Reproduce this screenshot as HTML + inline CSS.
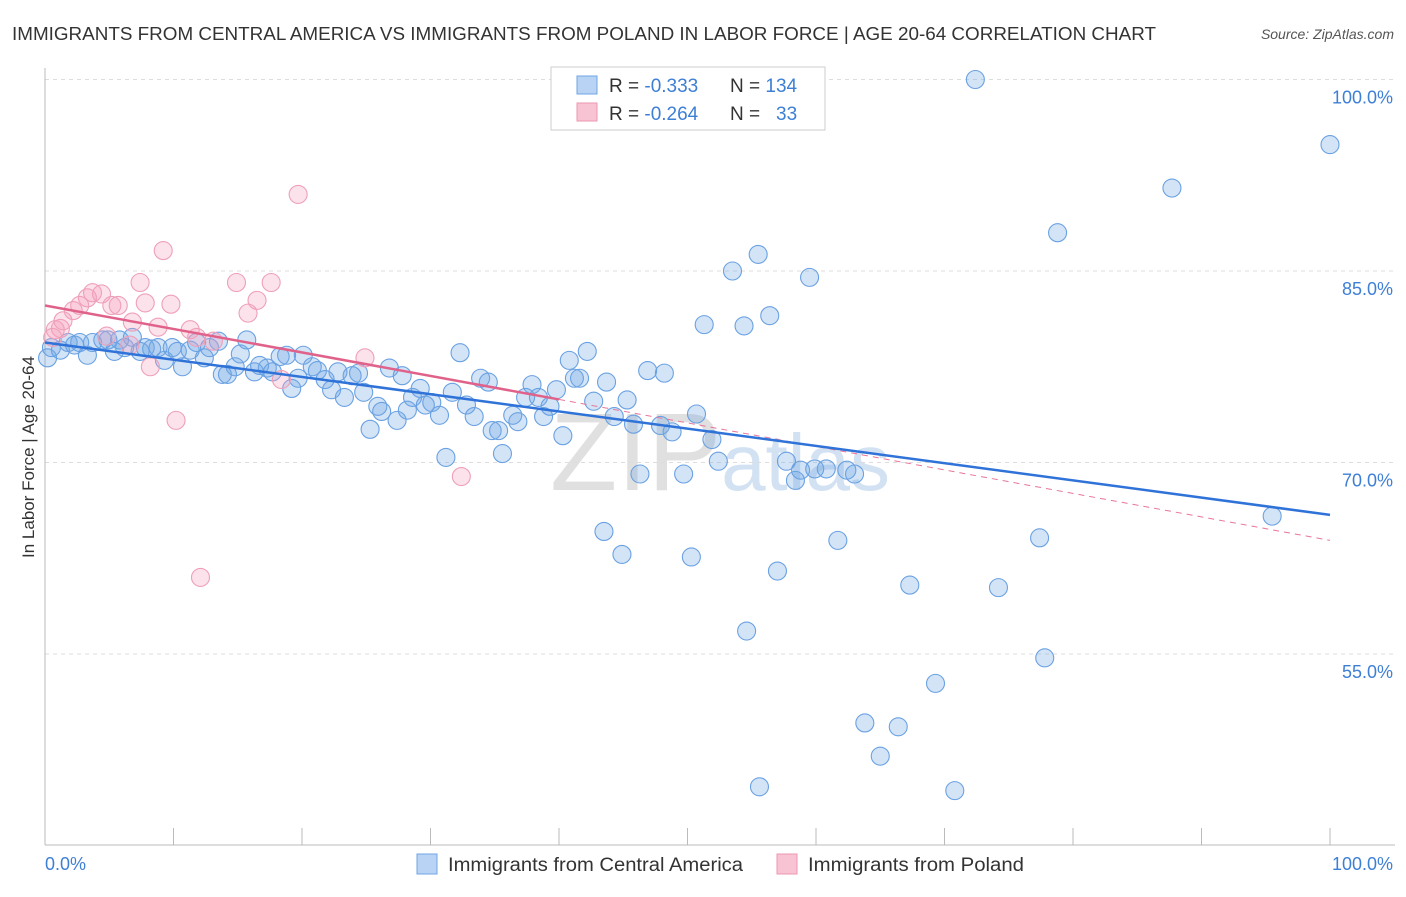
<!DOCTYPE html>
<html><head><meta charset="utf-8"><style>
body{margin:0;background:#fff;font-family:"Liberation Sans",sans-serif;}
svg text{font-family:"Liberation Sans",sans-serif;}
</style></head><body>
<svg id="chart" width="1406" height="892" viewBox="0 0 1406 892">
<text x="12" y="40" font-size="18" fill="#333" textLength="1144" lengthAdjust="spacingAndGlyphs">IMMIGRANTS FROM CENTRAL AMERICA VS IMMIGRANTS FROM POLAND IN LABOR FORCE | AGE 20-64 CORRELATION CHART</text>
<text x="1394" y="39" font-size="14" fill="#555" font-style="italic" text-anchor="end">Source: ZipAtlas.com</text>
<text x="720" y="490" font-size="110" fill="#e2e2e2" text-anchor="middle" font-family="Liberation Serif"><tspan fill="#e0e0e0">ZIP</tspan><tspan fill="#d3e2f3" font-family="Liberation Sans" font-size="80">atlas</tspan></text>
<g id="grid"></g><g id="axes"></g><g id="marks"></g>
<text transform="translate(34,457) rotate(-90)" font-size="17" fill="#333" text-anchor="middle">In Labor Force | Age 20-64</text>
<g>
<rect x="551" y="67" width="274" height="63" fill="#fff" stroke="#ccc"/>
<rect x="577" y="76" width="20" height="18" fill="#b9d3f4" stroke="#6fa4e3"/>
<rect x="577" y="103" width="20" height="18" fill="#f8c3d2" stroke="#ee97b2"/>
<text x="609" y="92" font-size="19" fill="#333">R = <tspan fill="#3e7fd6">-0.333</tspan></text>
<text x="730" y="92" font-size="19" fill="#333">N = <tspan fill="#3e7fd6">134</tspan></text>
<text x="609" y="120" font-size="19" fill="#333">R = <tspan fill="#3e7fd6">-0.264</tspan></text>
<text x="730" y="120" font-size="19" fill="#333">N = </text>
<text x="776" y="120" font-size="19" fill="#3e7fd6">33</text>
</g>
<g>
<rect x="417" y="854" width="20" height="20" fill="#b9d3f4" stroke="#6fa4e3"/>
<text x="448" y="871" font-size="19" fill="#333" textLength="295" lengthAdjust="spacingAndGlyphs">Immigrants from Central America</text>
<rect x="777" y="854" width="20" height="20" fill="#f8c3d2" stroke="#ee97b2"/>
<text x="808" y="871" font-size="19" fill="#333" textLength="216" lengthAdjust="spacingAndGlyphs">Immigrants from Poland</text>
</g>
</svg>
<script>
const yTicks=[100,85,70,55];
const yTickLabels=["100.0%","85.0%","70.0%","55.0%"];
const xTickLabels=["0.0%","100.0%"];
const blueX=[0.2,0.5,1.2,1.8,2.3,2.7,3.3,3.7,4.5,4.9,5.4,5.8,6.2,6.8,7.4,7.8,8.3,8.8,9.3,9.9,10.3,10.7,11.3,11.8,12.4,12.8,13.5,13.8,14.2,14.8,15.2,15.7,16.3,16.7,17.3,17.7,18.3,18.8,19.2,19.7,20.1,20.8,21.2,21.8,22.3,22.8,23.3,23.9,24.4,24.8,25.3,25.9,26.2,26.8,27.4,27.8,28.2,28.6,29.2,29.6,30.1,30.7,31.2,31.7,32.3,32.8,33.4,33.9,34.5,34.8,35.3,35.6,36.4,36.8,37.4,37.9,38.4,38.8,39.3,39.8,40.3,40.8,41.2,41.6,42.2,42.7,43.5,43.7,44.3,44.9,45.3,45.8,46.3,46.9,47.9,48.2,48.8,49.7,50.3,50.7,51.3,51.9,52.4,53.5,54.4,54.6,55.5,55.6,56.4,57.0,57.7,58.4,58.8,59.5,59.9,60.8,61.7,62.4,63.0,63.8,65.0,66.4,67.3,69.3,70.8,72.4,74.2,77.4,77.8,78.8,87.7,95.5,100.0,47.6,49.1];
const blueY=[78.2,79.0,78.8,79.4,79.2,79.4,78.4,79.4,79.6,79.6,78.7,79.6,79.0,79.8,78.7,79.0,78.9,79.0,78.0,79.0,78.7,77.5,78.8,79.4,78.2,79.0,79.5,76.9,76.9,77.5,78.5,79.6,77.1,77.6,77.4,77.1,78.3,78.4,75.8,76.6,78.4,77.5,77.2,76.5,75.7,77.1,75.1,76.8,77.0,75.5,72.6,74.4,74.0,77.4,73.3,76.8,74.1,75.1,75.8,74.5,74.7,73.7,70.4,75.5,78.6,74.5,73.6,76.6,76.3,72.5,72.5,70.7,73.7,73.2,75.1,76.1,75.1,73.6,74.4,75.7,72.1,78.0,76.6,76.6,78.7,74.8,64.6,76.3,73.6,62.8,74.9,73.0,69.1,77.2,72.9,77.0,72.4,69.1,62.6,73.8,80.8,71.8,70.1,85.0,80.7,56.8,86.3,44.6,81.5,61.5,70.1,68.6,69.4,84.5,69.5,69.5,63.9,69.4,69.1,49.6,47.0,49.3,60.4,52.7,44.3,100.0,60.2,64.1,54.7,88.0,91.5,65.8,94.9,100.0,100.0];
const pinkX=[0.8,1.2,0.6,1.4,2.2,2.7,3.3,3.7,4.4,5.2,5.7,6.8,7.4,7.8,8.2,8.8,9.2,9.8,10.2,11.3,12.1,13.1,14.9,15.8,16.5,17.6,18.4,19.7,24.9,32.4,4.8,6.6,11.8];
const pinkY=[80.4,80.5,79.8,81.1,81.9,82.3,82.9,83.3,83.2,82.3,82.3,81.0,84.1,82.5,77.5,80.6,86.6,82.4,73.3,80.4,61.0,79.5,84.1,81.7,82.7,84.1,76.5,91.0,78.2,68.9,79.9,79.2,79.8];
const blueTrend=[79.4,65.9];
const pinkTrend=[82.3,63.9];
const pinkSolidEnd=40;
const X=v=>45+v*12.85, Y=v=>271+(85-v)*12.767;
const NS="http://www.w3.org/2000/svg";
function mk(parent,tag,attrs){const e=document.createElementNS(NS,tag);for(const k in attrs)e.setAttribute(k,attrs[k]);document.getElementById(parent).appendChild(e);return e;}
yTicks.forEach((t,i)=>{
 const g=mk('grid','line',{x1:45,x2:1395,y1:Y(t),y2:Y(t),stroke:'#ddd','stroke-dasharray':'4,4'});
 
 
 const l=mk('axes','text',{x:1393,y:Y(t)+24,'font-size':18,fill:'#3e7fd6','text-anchor':'end'});
 l.textContent=yTickLabels[i];
 
 
});
const ax=mk('axes','line',{x1:45,x2:45,y1:68,y2:845,stroke:'#bbb'});


const bx=mk('axes','line',{x1:45,x2:1395,y1:845,y2:845,stroke:'#bbb'});


for(let i=0;i<=10;i++){const t=mk('axes','line',{x1:X(i*10),x2:X(i*10),y1:828,y2:845,stroke:'#bbb'});
 
 }
[[0,45,'start'],[1,1393,'end']].forEach(([i,x,a])=>{const l=mk('axes','text',{x:x,y:870,'font-size':18,fill:'#3e7fd6','text-anchor':a});l.textContent=xTickLabels[i];
 
 });
blueX.forEach((x,i)=>{const c=mk('marks','circle',{cx:X(x),cy:Y(blueY[i]),r:9,fill:'rgba(110,165,230,0.3)',stroke:'#6aa1e2','stroke-width':1.1});
 
 });
pinkX.forEach((x,i)=>{const c=mk('marks','circle',{cx:X(x),cy:Y(pinkY[i]),r:9,fill:'rgba(244,160,188,0.3)',stroke:'#eea0b8','stroke-width':1.1});
 
 });
const pv=x=>pinkTrend[0]+(pinkTrend[1]-pinkTrend[0])*x/100;
const pd=mk('marks','line',{x1:X(pinkSolidEnd),y1:Y(pv(pinkSolidEnd)),x2:X(100),y2:Y(pinkTrend[1]),stroke:'#e8759a','stroke-width':1,'stroke-dasharray':'6,5'});


const ps=mk('marks','line',{x1:X(0),y1:Y(pinkTrend[0]),x2:X(pinkSolidEnd),y2:Y(pv(pinkSolidEnd)),stroke:'#e0628a','stroke-width':2.5});


const bl=mk('marks','line',{x1:X(0),y1:Y(blueTrend[0]),x2:X(100),y2:Y(blueTrend[1]),stroke:'#2f72d8','stroke-width':2.5});


</script>
</body></html>
